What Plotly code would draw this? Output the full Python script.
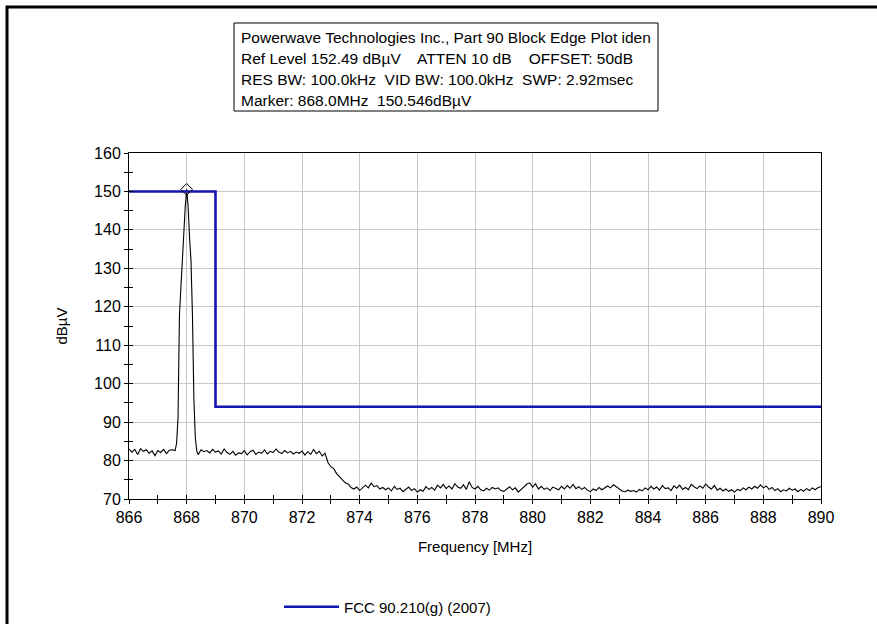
import numpy as np
import plotly.graph_objects as go

# ---- Sweep data -------------------------------------------------------------
# Sweep points below the carrier (866.0 .. 867.6 MHz, 0.1 MHz step)
pre_freq = np.round(np.arange(866.0, 867.65, 0.1), 2)
pre_level = [83.0, 82.2, 82.9, 81.6, 83.1, 82.4, 82.8, 81.9, 82.5, 81.3,
             82.6, 82.1, 82.9, 81.8, 82.7, 82.8, 82.6]

# Carrier peak, finer resolution (867.65 .. 868.35 MHz, 0.05 MHz step)
peak_freq = np.round(np.arange(867.65, 868.351, 0.05), 2)
peak_level = [84.5, 91.0, 118.0, 125.0, 133.0, 140.0, 146.0, 150.546,
              146.0, 138.0, 132.0, 118.0, 96.0, 86.0, 82.5]

# Sweep points above the carrier (868.4 .. 890.0 MHz, 0.1 MHz step)
post_freq = np.round(np.arange(868.4, 890.05, 0.1), 2)
post_level = [
    81.5, 82.8, 82.3, 82.6, 82.0, 82.9, 82.2, 82.5, 81.7, 83.0,
    82.1, 81.6, 82.4, 81.4, 82.0, 81.8, 82.6, 81.5, 82.3, 82.7,
    81.6, 82.2, 81.9, 82.8, 81.7, 82.4, 82.1, 83.0, 82.2, 81.8,
    82.6, 82.0, 82.4, 81.7, 82.2, 81.9, 82.5, 81.4, 82.3, 81.6,
    82.9, 81.8, 82.4,
    81.2, 81.9, 79.5, 78.4, 77.9, 76.6, 75.8, 75.1, 74.2, 73.9,
    73.0, 72.6, 73.1, 72.2,
    72.8, 73.6, 72.9, 74.1, 73.2, 73.5, 72.6, 73.0, 72.4, 72.9,
    72.1, 73.3, 72.5, 72.8, 71.9, 72.6, 73.1, 72.2, 72.7, 71.8,
    72.4, 72.0, 73.2, 72.5, 73.0, 72.3, 73.6, 72.9, 73.8, 72.7,
    73.4, 72.6, 74.0, 73.1, 72.8, 73.7, 72.5, 74.5, 73.0, 72.6,
    73.3, 72.4, 72.1, 72.8, 72.3, 73.0, 72.6, 72.9, 72.2, 72.0,
    72.7, 73.2, 72.4, 72.9, 71.8, 72.5, 73.4, 73.9, 74.2, 73.1,
    74.0, 72.6, 73.3, 72.5, 72.9, 72.2, 73.1, 72.7, 72.4, 73.3,
    72.6, 73.5, 72.8, 73.8, 72.7, 73.2, 72.5, 73.0, 72.3, 71.9,
    72.6, 72.2, 73.0, 72.4, 72.8, 73.4, 72.9, 73.7, 73.2, 72.6,
    72.1, 71.9, 72.3, 72.0, 72.2, 71.8, 72.5, 72.1, 72.9, 72.4,
    73.3, 72.6, 73.1, 72.3, 73.5, 72.7, 72.9, 72.2, 73.4, 72.8,
    73.6, 72.5, 73.0, 72.4, 73.8, 73.2, 72.7, 73.4, 72.8, 73.9,
    73.1, 72.6, 73.5, 72.3, 72.8, 72.1, 72.6, 72.0, 72.4, 71.8,
    72.5, 72.2, 72.9, 72.4, 73.1, 72.6, 73.3, 72.8, 73.7, 72.9,
    73.4, 72.5, 73.0, 72.2, 72.7, 71.9, 72.4, 72.1, 72.8, 72.3,
    72.6, 71.9, 72.5, 72.0, 72.7, 72.2, 72.9, 72.4, 73.0, 73.2,
]

sweep_freq = list(pre_freq) + list(peak_freq) + list(post_freq)
sweep_level = pre_level + peak_level + post_level

# FCC 90.210(g) block-edge limit
limit_freq = [866, 869, 869, 890]
limit_level = [150, 150, 94, 94]

# Marker reading
marker_freq = [868.0]
marker_level = [150.546]

header_lines = [
    "Powerwave Technologies Inc., Part 90 Block Edge Plot iden",
    "Ref Level 152.49 dBµV    ATTEN 10 dB    OFFSET: 50dB",
    "RES BW: 100.0kHz  VID BW: 100.0kHz  SWP: 2.92msec",
    "Marker: 868.0MHz  150.546dBµV",
]

# ---- Layout geometry (pixels) ----------------------------------------------
W, H = 877, 624
L, R, T, B = 129, 821, 153, 499          # plot-area edges


def px(x):
    return (x - L) / (R - L)


def py(y):
    return (B - y) / (B - T)


FONT = "Liberation Sans, Arial, sans-serif"

fig = go.Figure()

fig.add_trace(go.Scatter(
    x=sweep_freq, y=sweep_level, mode="lines",
    line=dict(color="black", width=1.1), showlegend=False, hoverinfo="x+y",
))
fig.add_trace(go.Scatter(
    x=limit_freq, y=limit_level, mode="lines",
    line=dict(color="#1414b0", width=2.6),
    name="FCC 90.210(g) (2007)",
))
fig.add_trace(go.Scatter(
    x=marker_freq, y=marker_level, mode="markers",
    marker=dict(symbol="diamond-open", size=9, color="black",
                line=dict(width=1, color="black")),
    showlegend=False,
))
# companion axes carrying the inward half of the tick marks
fig.add_trace(go.Scatter(x=[None], y=[None], xaxis="x2", yaxis="y2",
                         showlegend=False, hoverinfo="skip"))

axis_common = dict(showline=True, linecolor="black", linewidth=1, mirror=True,
                   ticks="outside", ticklen=4, tickcolor="black", tickwidth=1,
                   showgrid=True, gridcolor="#c8c8c8", gridwidth=1,
                   zeroline=False, automargin=False,
                   tickfont=dict(family=FONT, size=16, color="black"))

fig.update_layout(
    width=W, height=H,
    margin=dict(l=L, r=W - R, t=T, b=H - B, autoexpand=False),
    paper_bgcolor="white", plot_bgcolor="white",
    font=dict(family=FONT, size=14, color="black"),
    xaxis=dict(range=[866, 890], tick0=866, dtick=2,
               minor=dict(dtick=1, ticks="outside", ticklen=4,
                          tickcolor="black", showgrid=False),
               title=dict(text="Frequency [MHz]", standoff=16,
                          font=dict(family=FONT, size=15)),
               **axis_common),
    yaxis=dict(range=[70, 160], tick0=70, dtick=10,
               minor=dict(dtick=5, ticks="outside", ticklen=4,
                          tickcolor="black", showgrid=False),
               title=dict(text="dBµV", standoff=22,
                          font=dict(family=FONT, size=15)),
               **axis_common),
    xaxis2=dict(range=[866, 890], overlaying="x", anchor="y2",
                tick0=866, dtick=2, ticks="inside", ticklen=4,
                tickcolor="black",
                minor=dict(dtick=1, ticks="inside", ticklen=4,
                           tickcolor="black", showgrid=False),
                showticklabels=False, showgrid=False, showline=False,
                zeroline=False),
    yaxis2=dict(range=[70, 160], overlaying="y", anchor="x2",
                tick0=70, dtick=10, ticks="inside", ticklen=4,
                tickcolor="black",
                minor=dict(dtick=5, ticks="inside", ticklen=4,
                           tickcolor="black", showgrid=False),
                showticklabels=False, showgrid=False, showline=False,
                zeroline=False),
    legend=dict(orientation="h", xref="container", yref="container",
                x=279 / W, y=1 - 607 / H,
                xanchor="left", yanchor="middle", itemwidth=55,
                bgcolor="rgba(0,0,0,0)",
                font=dict(family=FONT, size=15, color="black")),
)

# header box with instrument settings
fig.add_shape(type="rect", xref="paper", yref="paper",
              x0=px(234), x1=px(658), y0=py(111), y1=py(23),
              line=dict(color="black", width=1), fillcolor="white")
for line_text, ypix in zip(header_lines, [37, 59, 80, 100]):
    fig.add_annotation(text=line_text, xref="paper", yref="paper",
                       x=px(239), y=py(ypix), xanchor="left",
                       yanchor="middle", showarrow=False,
                       font=dict(family=FONT, size=15.5, color="black"))

# window frame along the top and left edges
fig.add_shape(type="path", xref="paper", yref="paper",
              path=f"M {px(7)} {py(624)} L {px(7)} {py(7)} L {px(877)} {py(7)}",
              line=dict(color="black", width=3))

fig.write_html("out.html")
